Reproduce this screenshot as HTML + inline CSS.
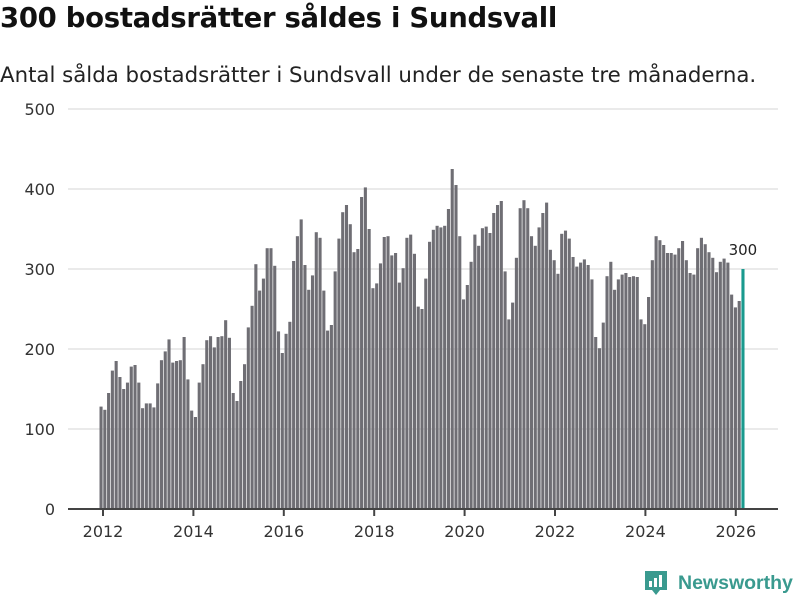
<!DOCTYPE html>
<html><head><meta charset="utf-8">
<style>
body{margin:0;width:800px;height:600px;background:#fff;font-family:"DejaVu Sans",sans-serif;overflow:hidden;position:relative}
#title{position:absolute;left:0;top:2px;font-size:27.5px;font-weight:bold;color:#111;white-space:nowrap;letter-spacing:-0.3px}
#sub{position:absolute;left:0;top:63px;font-size:21.3px;color:#222;white-space:nowrap}
#logo{position:absolute;left:644px;top:568px}
</style></head><body>
<div id="title">300 bostadsrätter såldes i Sundsvall</div>
<div id="sub">Antal sålda bostadsrätter i Sundsvall under de senaste tre månaderna.</div>
<svg id="chart" width="800" height="600" style="position:absolute;left:0;top:0"></svg>
<div id="logo">
<svg width="156" height="32">
<path d="M1 3h22v19h-7l-4 5-4-5h-7z" fill="#3a9a8f"/>
<rect x="5" y="13" width="3" height="6" fill="#fff"/><rect x="10" y="10" width="3" height="9" fill="#fff"/><rect x="15" y="7" width="3" height="12" fill="#fff"/>
<text x="34" y="21" font-family="Liberation Sans, sans-serif" font-size="19.5" font-weight="bold" fill="#3a9a8f">Newsworthy</text>
</svg></div>
<script>
const values=[128,124,145,173,185,165,150,158,178,180,158,126,
132,132,127,157,186,197,212,183,185,186,215,162,
123,115,158,181,211,216,202,215,216,236,214,145,
135,160,181,227,254,306,273,288,326,326,304,222,
195,219,234,310,341,362,305,274,292,346,339,273,
223,230,297,338,371,380,356,321,325,390,402,350,
276,282,307,340,341,317,320,283,301,339,343,319,
253,250,288,334,349,354,352,354,375,425,405,341,
262,280,309,343,329,351,353,345,370,380,385,297,
237,258,314,376,386,376,341,329,352,370,383,324,
311,294,344,348,338,315,303,308,312,305,287,215,
201,233,291,309,274,287,293,295,290,291,290,237,
231,265,311,341,336,330,320,320,318,326,335,311,
295,293,326,339,331,321,314,296,309,313,308,268,
252,260,300];
const yTicks=[0,100,200,300,400,500];
const xTickYears=[2012,2014,2016,2018,2020,2022,2024,2026];
const startYear=2012;
const svg=document.getElementById('chart');
const NS='http://www.w3.org/2000/svg';
const y=v=>509-v*0.8;
const x=i=>101+i*3.776;
const xYear=yr=>103+(yr-startYear)*45.2;
function mk(t,a){const e=document.createElementNS(NS,t);for(const k in a)e.setAttribute(k,a[k]);svg.appendChild(e);return e;}
yTicks.forEach(v=>{
 if(v>0){const g=mk('line',{x1:68,x2:778,y1:y(v),y2:y(v),stroke:'#e3e3e3','stroke-width':1.5});
 
 }
 const t=mk('text',{x:55,y:y(v)+6,'text-anchor':'end','font-size':16,fill:'#333','font-family':'DejaVu Sans, sans-serif'});
 t.textContent=v;
 
 
});
values.forEach((v,i)=>{
 const last=i===values.length-1;
 const r=mk('rect',{x:x(i)-1.5,y:y(v),width:3.1,height:v*0.8,fill:last?'#1a9a8e':'#6f6e74'});
 
 
 if(last){const t=mk('text',{x:x(i),y:y(v)-14,'text-anchor':'middle','font-size':15,fill:'#222','font-family':'DejaVu Sans, sans-serif'});
 t.textContent=v;
 
 }
});
const ax=mk('line',{x1:68,x2:778,y1:509,y2:509,stroke:'#444','stroke-width':2});


xTickYears.forEach(yr=>{
 const tk=mk('line',{x1:xYear(yr),x2:xYear(yr),y1:509,y2:516,stroke:'#444','stroke-width':2});
 
 
 const t=mk('text',{x:xYear(yr),y:537,'text-anchor':'middle','font-size':16,fill:'#333','font-family':'DejaVu Sans, sans-serif'});
 t.textContent=yr;
 
 
});
</script>
</body></html>
